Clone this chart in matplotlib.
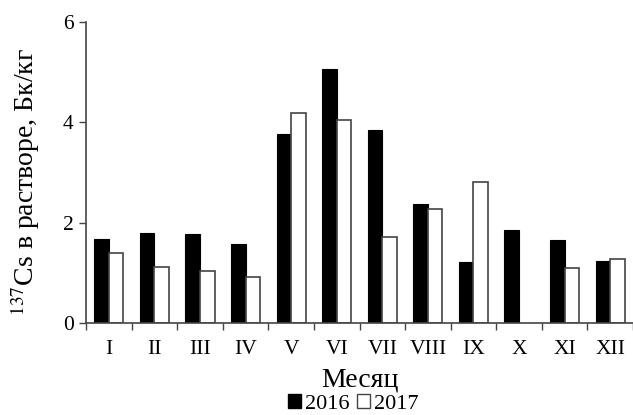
import numpy as np
import matplotlib
matplotlib.use('Agg')
import matplotlib.pyplot as plt
from matplotlib.patches import Patch

plt.rcParams['font.family'] = ['Liberation Serif', 'DejaVu Serif']
plt.rcParams['mathtext.fontset'] = 'stix'

months = ['I', 'II', 'III', 'IV', 'V', 'VI', 'VII', 'VIII', 'IX', 'X', 'XI', 'XII']
cs_2016 = [1.68, 1.80, 1.78, 1.58, 3.77, 5.06, 3.85, 2.37, 1.22, 1.86, 1.66, 1.24]
cs_2017 = [1.40, 1.11, 1.03, 0.93, 4.18, 4.04, 1.72, 2.27, 2.80, np.nan, 1.09, 1.27]

fig = plt.figure(figsize=(6.33, 4.15), dpi=100)
ax = fig.add_axes([0.136, 0.221, 0.864, 0.727])

x = np.arange(len(months))
w = 0.32
edge = '#444444'
ax.bar(x - w / 2, cs_2016, w, color='black', edgecolor='black', linewidth=0.8)
ax.bar(x + w / 2, cs_2017, w, color='white', edgecolor=edge, linewidth=1.2)

ax.set_xlim(-0.5, len(months) - 0.5)
ax.set_ylim(0, 6)
ax.set_yticks([0, 2, 4, 6])

# подписи месяцев по центру, засечки между категориями
ax.set_xticks(x)
ax.set_xticklabels(months)
ax.set_xticks(np.arange(-0.5, len(months), 1), minor=True)
ax.tick_params(axis='x', which='major', length=0, pad=12, labelsize=15.5)
ax.tick_params(axis='x', which='minor', length=5, direction='out', color=edge, width=1)
ax.tick_params(axis='y', length=5, direction='out', color=edge, width=1, labelsize=15.5, pad=4)

for s in ['top', 'right']:
    ax.spines[s].set_visible(False)
for s in ['left', 'bottom']:
    ax.spines[s].set_color(edge)
    ax.spines[s].set_linewidth(1.2)

fig.text(0.568, 0.068, 'Месяц', fontsize=20, ha='center', va='baseline')
ax.set_ylabel(r'$^{137}$Cs в растворе, Бк/кг', fontsize=20)
ax.yaxis.set_label_coords(-0.08, 0.47)

handles = [Patch(facecolor='black', edgecolor='black'),
           Patch(facecolor='white', edgecolor=edge, linewidth=1)]
fig.legend(handles, ['2016', '2017'], loc='center', bbox_to_anchor=(0.558, 0.026),
           ncol=2, frameon=False, fontsize=16, handlelength=0.6, handleheight=0.6,
           handletextpad=0.15, columnspacing=0.35, borderpad=0)

fig.savefig('out.png', dpi=100)
